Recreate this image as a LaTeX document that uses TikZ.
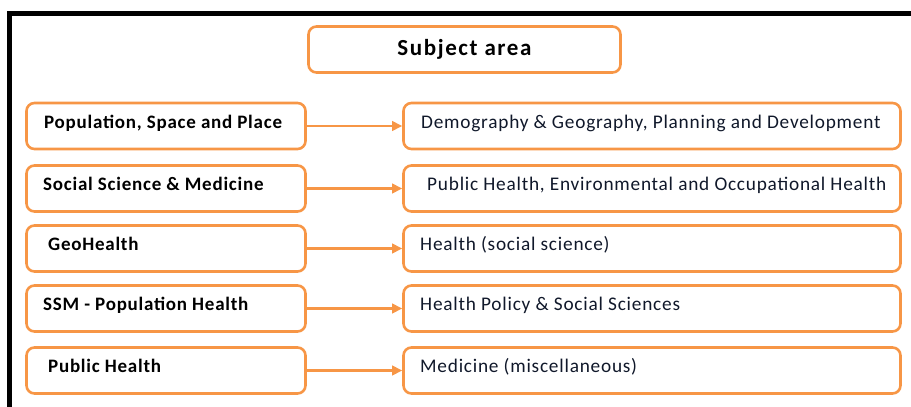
\documentclass[tikz,border=0pt]{standalone}
\usepackage{fontspec}
\setmainfont{Carlito}[LetterSpace=4]
\newfontfamily\headfont{Carlito}[LetterSpace=7]
\usetikzlibrary{arrows.meta}
\definecolor{boxorange}{HTML}{F79646}
\definecolor{areatext}{HTML}{10182A}

\begin{document}
\begin{tikzpicture}[x=1pt,y=-1pt,
		box/.style={draw=boxorange, line width=2.6pt, rounded corners=8pt, minimum height=46pt, inner sep=0pt},
		jbox/.style={box, minimum width=279pt},
		sbox/.style={box, minimum width=497pt},
		jname/.style={anchor=base west, inner sep=0pt, font=\bfseries\fontsize{19}{21}\selectfont},
		sname/.style={anchor=base west, inner sep=0pt, text=areatext, font=\fontsize{19.3}{21}\selectfont},
		link/.style={draw=boxorange, line width=2.4pt, -{Triangle[length=10pt,width=9.5pt]}}]
		\useasboundingbox (0,0) rectangle (911,407);
		\draw [line width=4.5pt] (9.5,407) -- (9.5,13.5) -- (911,13.5);
		% header
		\node [box, minimum width=312pt, font=\headfont\bfseries\fontsize{23}{25}\selectfont] (title) at (464.5,49.5) {Subject area};
		% journals
		\node [jbox] (j1) at (166,126) {};
		\node [jbox] (j2) at (166,188.5) {};
		\node [jbox] (j3) at (166,248.5) {};
		\node [jbox] (j4) at (166,308.5) {};
		\node [jbox] (j5) at (166,370.5) {};
		\node [jname] (j1t) at (44,128) {Population, Space and Place};
		\node [jname] (j2t) at (43,190.5) {Social Science \& Medicine};
		\node [jname] (j3t) at (48,250.5) {GeoHealth};
		\node [jname] (j4t) at (43,310.5) {SSM - Population Health};
		\node [jname] (j5t) at (48,372.5) {Public Health};
		% subject areas
		\node [sbox] (s1) at (652,126) {};
		\node [sbox] (s2) at (652,188.5) {};
		\node [sbox] (s3) at (652,248.5) {};
		\node [sbox] (s4) at (652,308.5) {};
		\node [sbox] (s5) at (652,370.5) {};
		\node [sname] (s1t) at (421,128) {Demography \& Geography, Planning and Development};
		\node [sname] (s2t) at (427,190.5) {Public Health, Environmental and Occupational Health};
		\node [sname] (s3t) at (420,250.5) {Health (social science)};
		\node [sname] (s4t) at (420,310.5) {Health Policy \& Social Sciences};
		\node [sname] (s5t) at (420,372.5) {Medicine (miscellaneous)};
		% links
		\draw [link] (j1) -- (s1);
		\draw [link] (j2) -- (s2);
		\draw [link] (j3) -- (s3);
		\draw [link] (j4) -- (s4);
		\draw [link] (j5) -- (s5);
		
\end{tikzpicture}
\end{document}
